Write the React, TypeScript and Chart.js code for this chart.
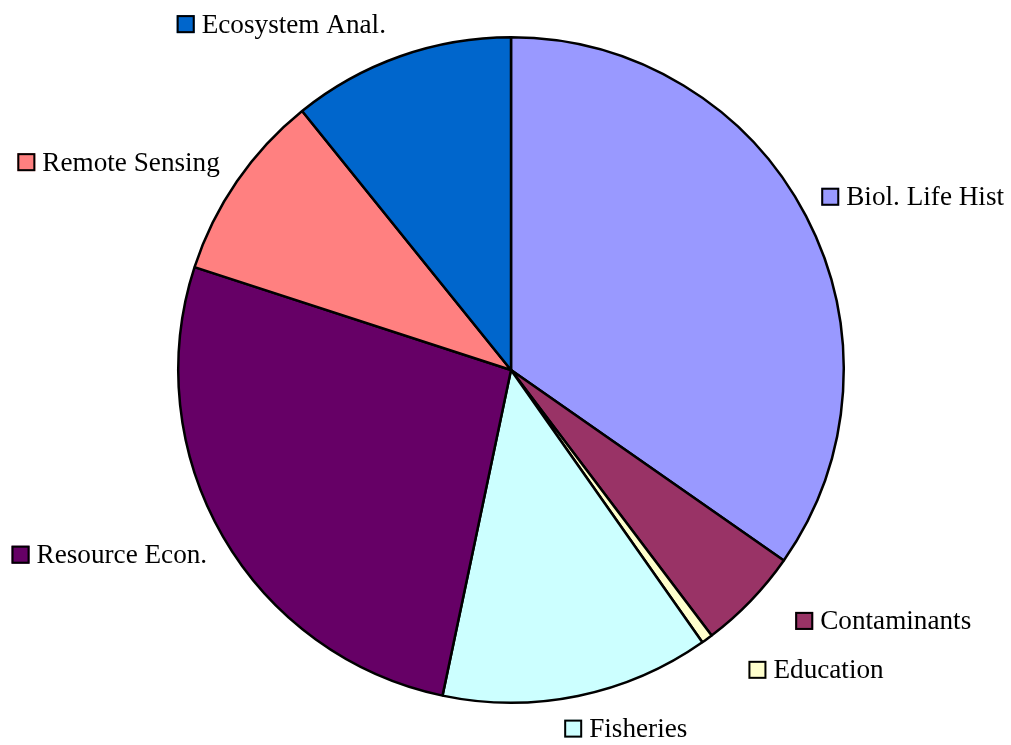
import React, { useEffect, useRef } from "react";
import { Chart, registerables } from "chart.js";

Chart.register(...registerables);

const categories = [
  "Biol. Life Hist",
  "Contaminants",
  "Education",
  "Fisheries",
  "Resource Econ.",
  "Remote Sensing",
  "Ecosystem Anal.",
];
const values = [34.7, 5.0, 0.55, 13.05, 26.7, 9.2, 10.8];
const colors = ["#9999FF", "#993366", "#FFFFCC", "#CCFFFF", "#660066", "#FF8080", "#0066CC"];
// label nudges (px) applied after placing each label at the slice's mid-angle
const labelNudgeX = [1, 33, 32, -17, -2, -4, -9];
const labelNudgeY = [-3, 0, 9, 8, 1, -1, -8];

const FONT = "27.2px 'Liberation Serif', 'Times New Roman', serif";

const labelPlugin = {
  id: "outsideLabels",
  afterDraw(chart: any) {
    const ctx = chart.ctx;
    const meta = chart.getDatasetMeta(0);
    ctx.save();
    ctx.font = FONT;
    ctx.textBaseline = "alphabetic";
    ctx.textAlign = "left";
    meta.data.forEach((arc: any, i: number) => {
      const p = arc.getProps(["x", "y", "startAngle", "endAngle", "outerRadius"], true);
      const mid = (p.startAngle + p.endAngle) / 2;
      const R = p.outerRadius + 16;
      const px = p.x + Math.cos(mid) * R;
      const py = p.y + Math.sin(mid) * R;
      const sq = 18;
      const tw = ctx.measureText(categories[i]).width;
      const w = sq + 7 + tw;
      const h = sq;
      let bx = Math.cos(mid) >= 0 ? px : px - w;
      let by = Math.sin(mid) < 0 ? py - h : py;
      bx += labelNudgeX[i];
      by += labelNudgeY[i];
      ctx.fillStyle = colors[i];
      ctx.fillRect(bx, by, sq, sq);
      ctx.lineWidth = 2;
      ctx.strokeStyle = "#000";
      ctx.strokeRect(bx + 1, by + 1, sq - 2, sq - 2);
      ctx.fillStyle = "#000";
      ctx.fillText(categories[i], bx + sq + 7, by + sq - 0.5);
    });
    ctx.restore();
  },
};

export default function App() {
  const ref = useRef<HTMLCanvasElement | null>(null);
  useEffect(() => {
    if (!ref.current) return;
    const chart = new Chart(ref.current, {
      type: "pie",
      data: {
        labels: categories,
        datasets: [
          {
            data: values,
            backgroundColor: colors,
            borderColor: "#000",
            borderWidth: 2.5,
          },
        ],
      },
      options: {
        responsive: false,
        animation: false,
        layout: { padding: { top: 36, bottom: 41, left: 177, right: 166 } },
        plugins: {
          legend: { display: false },
          tooltip: { enabled: false },
        },
      },
      plugins: [labelPlugin],
    });
    return () => chart.destroy();
  }, []);
  return (
    <div style={{ position: "absolute", left: 0, top: 0, width: 1011, height: 745, background: "#fff" }}>
      <canvas ref={ref} width={1011} height={745} />
    </div>
  );
}
